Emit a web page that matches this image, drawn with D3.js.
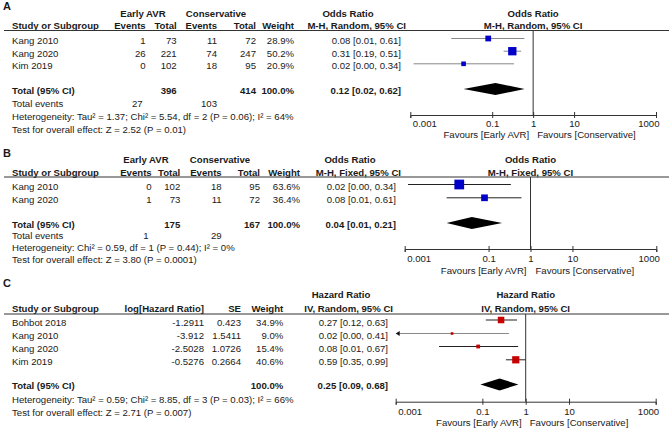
<!DOCTYPE html>
<html><head><meta charset="utf-8">
<script src="https://cdn.jsdelivr.net/npm/d3@7"></script>
<style>
body{margin:0;background:#fff;}
svg text{font-family:"Liberation Sans",Arial,sans-serif;font-size:9.6px;fill:#1a1a1a;}
svg text.b{font-weight:bold;}
svg text.lbl{font-weight:bold;font-size:11px;}
</style></head><body>
<svg id="chart" width="669" height="433"></svg>
<script>
// ===== Panel A: Odds Ratio, M-H Random =====
const aStudies = ["Kang 2010", "Kang 2020", "Kim 2019"];
const aEarlyEvents = [1, 26, 0];
const aEarlyTotal = [73, 221, 102];
const aConsEvents = [11, 74, 18];
const aConsTotal = [72, 247, 95];
const aWeight = [28.9, 50.2, 20.9];
const aEst = [0.08, 0.31, 0.02];
const aLower = [0.01, 0.19, 0.0012];
const aUpper = [0.61, 0.51, 0.34];
const aTotals = [396, 414];
const aTotalEvents = [27, 103];
const aPooled = [0.12, 0.02, 0.62];
const aHet = "Heterogeneity: Tau² = 1.37; Chi² = 5.54, df = 2 (P = 0.06); I² = 64%";
const aTest = "Test for overall effect: Z = 2.52 (P = 0.01)";

// ===== Panel B: Odds Ratio, M-H Fixed =====
const bStudies = ["Kang 2010", "Kang 2020"];
const bEarlyEvents = [0, 1];
const bEarlyTotal = [102, 73];
const bConsEvents = [18, 11];
const bConsTotal = [95, 72];
const bWeight = [63.6, 36.4];
const bEst = [0.02, 0.08];
const bLower = [0.0012, 0.01];
const bUpper = [0.34, 0.61];
const bTotals = [175, 167];
const bTotalEvents = [1, 29];
const bPooled = [0.04, 0.01, 0.21];
const bHet = "Heterogeneity: Chi² = 0.59, df = 1 (P = 0.44); I² = 0%";
const bTest = "Test for overall effect: Z = 3.80 (P = 0.0001)";

// ===== Panel C: Hazard Ratio, IV Random =====
const cStudies = ["Bohbot 2018", "Kang 2010", "Kang 2020", "Kim 2019"];
const cLogHR = ["-1.2911", "-3.912", "-2.5028", "-0.5276"];
const cSE = ["0.423", "1.5411", "1.0726", "0.2664"];
const cWeight = [34.9, 9.0, 15.4, 40.6];
const cEst = [0.27, 0.02, 0.08, 0.59];
const cLower = [0.12, 0.00098, 0.01, 0.35];
const cUpper = [0.63, 0.41, 0.67, 0.99];
const cPooled = [0.25, 0.09, 0.68];
const cHet = "Heterogeneity: Tau² = 0.59; Chi² = 8.85, df = 3 (P = 0.03); I² = 66%";
const cTest = "Test for overall effect: Z = 2.71 (P = 0.007)";

// ===== Axis =====
const tickValues = [0.001, 0.1, 1, 10, 1000];
const tickLabels = ["0.001", "0.1", "1", "10", "1000"];
const favLeft = "Favours [Early AVR]";
const favRight = "Favours [Conservative]";

const f2 = d3.format(".2f");
const f1 = d3.format(".1f");
const ciText = (e, l, u) => `${f2(e)} [${f2(l)}, ${f2(u)}]`;

const svg = d3.select("#chart");

function txt(g, x, y, s, anchor, cls) {
  return g.append("text").attr("x", x).attr("y", y)
    .attr("text-anchor", anchor || "start").attr("class", cls || null).text(s);
}

function forest(g, L, est, lo, hi, w, pooled, color, lineCols) {
  const x = d3.scaleLog().domain([0.001, 1000]).range([L.x0, L.x1]);
  const size = d3.scalePow().exponent(0.67).domain([0, 100]).range([0, 13.2]);
  g.append("line").attr("x1", x(1)).attr("x2", x(1))
    .attr("y1", L.lineY).attr("y2", L.axisY).attr("stroke", "#333").attr("stroke-width", 1);
  est.forEach((e, i) => {
    const y = L.rows[i] - 5.5;
    const xl = lo[i] < 0.001 ? L.x0 + 1 : x(lo[i]);
    g.append("line").attr("x1", xl).attr("x2", x(hi[i])).attr("y1", y).attr("y2", y)
      .attr("stroke", lineCols[i]).attr("stroke-width", 1);
    if (lo[i] < 0.001) {
      g.append("path").attr("d", `M${L.x0},${y} l4,-2.5 l0,5 z`).attr("fill", "#111");
    }
  });
  est.forEach((e, i) => {
    const y = L.rows[i] - 5.5, s = size(w[i]);
    g.append("rect").attr("x", x(e) - s / 2).attr("y", y - s / 2)
      .attr("width", s).attr("height", s).attr("fill", color);
  });
  const dy = L.totalY - 4.5;
  g.append("path").attr("d",
    `M${x(pooled[1])},${dy} L${x(pooled[0])},${dy - 6} L${x(pooled[2])},${dy} L${x(pooled[0])},${dy + 6} Z`)
    .attr("fill", "#000");
  const ax = d3.axisBottom(x).tickValues(tickValues)
    .tickFormat((d, i) => tickLabels[i]).tickSizeOuter(0).tickSize(3);
  const ag = g.append("g").attr("transform", `translate(0,${L.axisY})`).call(ax);
  ag.attr("font-size", null).attr("font-family", null);
  ag.select(".domain").attr("stroke", "#333");
  ag.selectAll(".tick line").attr("y1", -3).attr("y2", 3).attr("stroke", "#333");
  ag.selectAll(".tick text").attr("y", L.tickY - L.axisY).attr("dy", null)
    .attr("text-anchor", (d, i) => i === 0 ? "start" : (i === tickValues.length - 1 ? "end" : "middle"))
    .attr("dx", (d, i) => i === 0 ? 2 : (i === tickValues.length - 1 ? 3 : 0));
  txt(g, x(1) - L.favL, L.favY, favLeft, "end");
  txt(g, x(1) + L.favR, L.favY, favRight, "start");
  return x;
}

function headerLine(g, L) {
  g.append("line").attr("x1", 4).attr("x2", 669).attr("y1", L.lineY).attr("y2", L.lineY)
    .attr("stroke", "#333").attr("stroke-width", 1);
}

// ---------- Panel A ----------
(function () {
  const L = { labelY: 10, groupY: 17, headY: 29, lineY: 30.5, rows: [44, 56.7, 69.3],
    totalY: 93.5, evY: 107, hetY: 120, testY: 133, axisY: 115, tickY: 127, favY: 138,
    x0: 410.3, x1: 656, study: 12, evE: 145.7, totE: 176.7, evC: 217, totC: 256, wt: 294,
    ciHead: 406, ci: 401, gE: 143, gC: 216, gOR: 348, favL: 4, favR: 4 };
  const g = svg.append("g");
  txt(g, 3, L.labelY, "A", "start", "lbl");
  txt(g, L.gE, L.groupY, "Early AVR", "middle", "b");
  txt(g, L.gC, L.groupY, "Conservative", "middle", "b");
  txt(g, L.gOR, L.groupY, "Odds Ratio", "middle", "b");
  txt(g, (L.x0 + L.x1) / 2, L.groupY, "Odds Ratio", "middle", "b");
  txt(g, L.study, L.headY, "Study or Subgroup", "start", "b");
  txt(g, L.evE, L.headY, "Events", "end", "b");
  txt(g, L.totE, L.headY, "Total", "end", "b");
  txt(g, L.evC, L.headY, "Events", "end", "b");
  txt(g, L.totC, L.headY, "Total", "end", "b");
  txt(g, L.wt, L.headY, "Weight", "end", "b");
  txt(g, L.ciHead, L.headY, "M-H, Random, 95% CI", "end", "b");
  txt(g, (L.x0 + L.x1) / 2, L.headY, "M-H, Random, 95% CI", "middle", "b");
  headerLine(g, L);
  aStudies.forEach((s, i) => {
    const y = L.rows[i];
    txt(g, L.study, y, s);
    txt(g, L.evE, y, aEarlyEvents[i], "end");
    txt(g, L.totE, y, aEarlyTotal[i], "end");
    txt(g, L.evC, y, aConsEvents[i], "end");
    txt(g, L.totC, y, aConsTotal[i], "end");
    txt(g, L.wt, y, f1(aWeight[i]) + "%", "end");
    txt(g, L.ci, y, ciText(aEst[i], aLower[i], aUpper[i]), "end");
  });
  txt(g, L.study, L.totalY, "Total (95% CI)", "start", "b");
  txt(g, L.totE, L.totalY, aTotals[0], "end", "b");
  txt(g, L.totC, L.totalY, aTotals[1], "end", "b");
  txt(g, L.wt, L.totalY, "100.0%", "end", "b");
  txt(g, L.ci, L.totalY, ciText(...aPooled), "end", "b");
  txt(g, L.study, L.evY, "Total events");
  txt(g, L.evE - 3, L.evY, aTotalEvents[0], "end");
  txt(g, L.evC, L.evY, aTotalEvents[1], "end");
  txt(g, L.study, L.hetY, aHet);
  txt(g, L.study, L.testY, aTest);
  forest(g, L, aEst, aLower, aUpper, aWeight, aPooled, "#0000c8", ["#888", "#888", "#888"]);
})();

// ---------- Panel B ----------
(function () {
  const L = { labelY: 157, groupY: 162.7, headY: 175.7, lineY: 177, rows: [190, 203.3],
    totalY: 227.5, evY: 239, hetY: 251, testY: 263, axisY: 249, tickY: 262, favY: 273.5,
    x0: 404.7, x1: 656.3, study: 12, evE: 151.7, totE: 180.3, evC: 221.7, totC: 260, wt: 300,
    ciHead: 401, ci: 396, gE: 146, gC: 220, gOR: 350, favL: 4, favR: 5 };
  const g = svg.append("g");
  txt(g, 3, L.labelY, "B", "start", "lbl");
  txt(g, L.gE, L.groupY, "Early AVR", "middle", "b");
  txt(g, L.gC, L.groupY, "Conservative", "middle", "b");
  txt(g, L.gOR, L.groupY, "Odds Ratio", "middle", "b");
  txt(g, (L.x0 + L.x1) / 2, L.groupY, "Odds Ratio", "middle", "b");
  txt(g, L.study, L.headY, "Study or Subgroup", "start", "b");
  txt(g, L.evE, L.headY, "Events", "end", "b");
  txt(g, L.totE, L.headY, "Total", "end", "b");
  txt(g, L.evC, L.headY, "Events", "end", "b");
  txt(g, L.totC, L.headY, "Total", "end", "b");
  txt(g, L.wt, L.headY, "Weight", "end", "b");
  txt(g, L.ciHead, L.headY, "M-H, Fixed, 95% CI", "end", "b");
  txt(g, (L.x0 + L.x1) / 2, L.headY, "M-H, Fixed, 95% CI", "middle", "b");
  headerLine(g, L);
  bStudies.forEach((s, i) => {
    const y = L.rows[i];
    txt(g, L.study, y, s);
    txt(g, L.evE, y, bEarlyEvents[i], "end");
    txt(g, L.totE, y, bEarlyTotal[i], "end");
    txt(g, L.evC, y, bConsEvents[i], "end");
    txt(g, L.totC, y, bConsTotal[i], "end");
    txt(g, L.wt, y, f1(bWeight[i]) + "%", "end");
    txt(g, L.ci, y, ciText(bEst[i], bLower[i], bUpper[i]), "end");
  });
  txt(g, L.study, L.totalY, "Total (95% CI)", "start", "b");
  txt(g, L.totE, L.totalY, bTotals[0], "end", "b");
  txt(g, L.totC, L.totalY, bTotals[1], "end", "b");
  txt(g, L.wt, L.totalY, "100.0%", "end", "b");
  txt(g, L.ci, L.totalY, ciText(...bPooled), "end", "b");
  txt(g, L.study, L.evY, "Total events");
  txt(g, L.evE - 3, L.evY, bTotalEvents[0], "end");
  txt(g, L.evC, L.evY, bTotalEvents[1], "end");
  txt(g, L.study, L.hetY, bHet);
  txt(g, L.study, L.testY, bTest);
  forest(g, L, bEst, bLower, bUpper, bWeight, bPooled, "#0000c8", ["#222", "#222"]);
})();

// ---------- Panel C ----------
(function () {
  const L = { labelY: 287, groupY: 298.3, headY: 311.7, lineY: 314, rows: [325.5, 339, 352, 365.3],
    totalY: 389, hetY: 403, testY: 416, axisY: 401.7, tickY: 415, favY: 426,
    x0: 395.7, x1: 655.7, study: 12, lhr: 204, se: 241, wt: 283.3,
    ciHead: 393, ci: 388, gHR: 341, favL: 4, favR: 4 };
  const g = svg.append("g");
  txt(g, 3, L.labelY, "C", "start", "lbl");
  txt(g, L.gHR, L.groupY, "Hazard Ratio", "middle", "b");
  txt(g, (L.x0 + L.x1) / 2, L.groupY, "Hazard Ratio", "middle", "b");
  txt(g, L.study, L.headY, "Study or Subgroup", "start", "b");
  txt(g, L.lhr, L.headY, "log[Hazard Ratio]", "end", "b");
  txt(g, L.se, L.headY, "SE", "end", "b");
  txt(g, L.wt, L.headY, "Weight", "end", "b");
  txt(g, L.ciHead, L.headY, "IV, Random, 95% CI", "end", "b");
  txt(g, (L.x0 + L.x1) / 2, L.headY, "IV, Random, 95% CI", "middle", "b");
  headerLine(g, L);
  cStudies.forEach((s, i) => {
    const y = L.rows[i];
    txt(g, L.study, y, s);
    txt(g, L.lhr, y, cLogHR[i], "end");
    txt(g, L.se, y, cSE[i], "end");
    txt(g, L.wt, y, f1(cWeight[i]) + "%", "end");
    txt(g, L.ci, y, ciText(cEst[i], cLower[i], cUpper[i]), "end");
  });
  txt(g, L.study, L.totalY, "Total (95% CI)", "start", "b");
  txt(g, L.wt, L.totalY, "100.0%", "end", "b");
  txt(g, L.ci, L.totalY, ciText(...cPooled), "end", "b");
  txt(g, L.study, L.hetY, cHet);
  txt(g, L.study, L.testY, cTest);
  forest(g, L, cEst, cLower, cUpper, cWeight, cPooled, "#c80000", ["#222", "#888", "#222", "#222"]);
})();
</script>
</body></html>
